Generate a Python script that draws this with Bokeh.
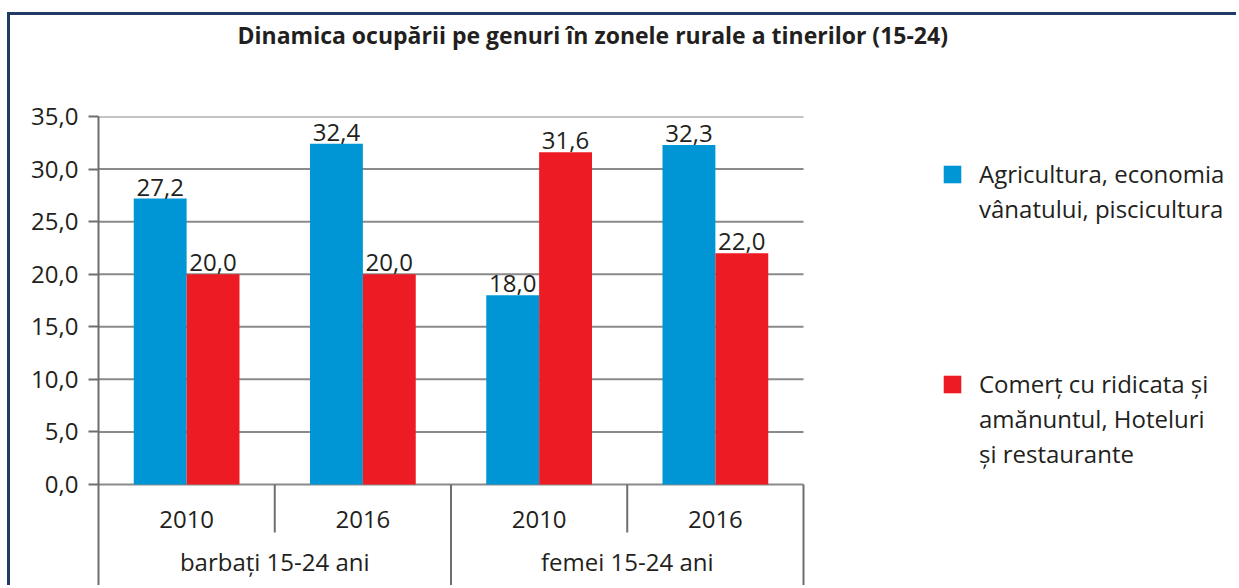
from bokeh.plotting import figure
from bokeh.models import (Range1d, ColumnDataSource, FixedTicker, Legend, LegendItem,
                          Title, CustomJSTickFormatter)
from bokeh.transform import dodge
from bokeh.core.properties import value
from bokeh.embed import file_html
from bokeh.resources import INLINE

# ---- data ----
chart_title = "Dinamica ocupării pe genuri în zonele rurale a tinerilor (15-24)"
groups = ["barbați 15-24 ani", "femei 15-24 ani"]
years = ["2010", "2016"]
agricultura = [27.2, 32.4, 18.0, 32.3]
comert = [20.0, 20.0, 31.6, 22.0]
series_lines = [["Agricultura, economia", "vânatului, piscicultura"],
                ["Comerț cu ridicata și", "amănuntul, Hoteluri", "și restaurante"]]
y_ticks = [0, 5, 10, 15, 20, 25, 30, 35]

BLUE = "#0096D6"
RED = "#ED1C24"
TXT = "#231F20"
GRID = "#8A8A8A"
AXIS = "#6E6E6E"
FONT = "Open Sans"

# category slots: one unit per (group, year) pair
factors = [(g, y) for g in groups for y in years]
n_cat = len(factors)
slot = [i + 0.5 for i in range(n_cat)]

def fmt(v):
    return f"{v:.1f}".replace(".", ",")

src = ColumnDataSource(dict(
    x=slot,
    agri=agricultura,
    com=comert,
    agri_lbl=[fmt(v) for v in agricultura],
    com_lbl=[fmt(v) for v in comert],
))

# canvas origin is shifted by the CSS margin + border below
OX, OY = 10, 15
W, H = 1239 - OX, 588 - OY
left_b = 98 - OX
top_b = 116 - OY
plot_w = 705                      # width of the bar area
frame_w = W - left_b              # frame also hosts the legend on the right
frame_h = H - top_b
px_per_unit = 368 / 35.0
y_bottom = 35 - frame_h / px_per_unit
x_end = n_cat * frame_w / plot_w

p = figure(width=W, height=H, output_backend="svg", toolbar_location=None,
           x_range=Range1d(0, x_end), y_range=Range1d(y_bottom, 35),
           x_axis_location=None,
           min_border_left=left_b, min_border_right=0,
           min_border_top=top_b, min_border_bottom=0)
p.styles = {"margin-left": "7px", "margin-top": "12px",
            "border-top": "3px solid #213A66", "border-left": "3px solid #213A66"}
p.outline_line_color = None
p.background_fill_color = "white"
p.xgrid.visible = False
p.ygrid.visible = False

yax = p.yaxis[0]
yax.ticker = FixedTicker(ticks=y_ticks)
yax.formatter = CustomJSTickFormatter(code="return tick.toFixed(1).replace('.', ',');")
yax.axis_line_color = AXIS
yax.axis_line_width = 2
yax.major_tick_line_color = AXIS
yax.major_tick_line_width = 2
yax.major_tick_out = 10
yax.major_tick_in = 0
yax.minor_tick_line_color = None
yax.major_label_standoff = 10
yax.major_label_text_font = FONT
yax.major_label_text_font_size = "24px"
yax.major_label_text_color = TXT

# horizontal grid lines across the bar area only
p.segment(x0=[0] * len(y_ticks), x1=[n_cat] * len(y_ticks), y0=y_ticks, y1=y_ticks,
          line_color=GRID, line_width=2)

r1 = p.vbar(x=dodge("x", -0.15), top="agri", width=0.3, bottom=0,
            source=src, fill_color=BLUE, line_color=None)
r2 = p.vbar(x=dodge("x", 0.15), top="com", width=0.3, bottom=0,
            source=src, fill_color=RED, line_color=None)
# invisible renderer used for legend rows that carry no swatch
r_blank = p.vbar(x=[], top=[], width=0.3, fill_alpha=0, line_alpha=0)

lbl_kw = dict(text_align="center", text_baseline="bottom", text_font=value(FONT),
              text_font_size="24px", text_color=TXT, y_offset=-3, source=src)
p.text(x=dodge("x", -0.15), y="agri", text="agri_lbl", **lbl_kw)
p.text(x=dodge("x", 0.15), y="com", text="com_lbl", **lbl_kw)

# category axis (two levels) drawn below the zero line
cat_src = ColumnDataSource(dict(x=slot, y=[0] * n_cat, t=[f[1] for f in factors]))
p.text(x="x", y="y", text="t", source=cat_src, y_offset=35, text_align="center",
       text_baseline="middle", text_font=value(FONT), text_font_size="24px", text_color=TXT)
grp_x = [sum(s for s, f in zip(slot, factors) if f[0] == g) /
         sum(1 for f in factors if f[0] == g) for g in groups]
grp_src = ColumnDataSource(dict(x=grp_x, y=[0] * len(groups), t=groups))
p.text(x="x", y="y", text="t", source=grp_src, y_offset=77, text_align="center",
       text_baseline="middle", text_font=value(FONT), text_font_size="24px", text_color=TXT)

# separators below the axis: short between years, long between groups / at the end
short_len = 48 / px_per_unit
sep_x, sep_y1 = [], []
for i in range(1, n_cat + 1):
    group_end = (i == n_cat) or (factors[i][0] != factors[i - 1][0])
    sep_x.append(i)
    sep_y1.append(y_bottom if group_end else -short_len)
p.segment(x0=sep_x, x1=sep_x, y0=[0] * len(sep_x), y1=sep_y1,
          line_color=AXIS, line_width=2)

# legend on the right: one row per text line, swatch on the first line
items = []
for i, (lines, rend) in enumerate(zip(series_lines, [r1, r2])):
    if i > 0:
        for _ in range(4):
            items.append(LegendItem(label=" ", renderers=[r_blank]))
    items.append(LegendItem(label=lines[0], renderers=[rend]))
    for ln in lines[1:]:
        items.append(LegendItem(label=ln, renderers=[r_blank]))

leg = Legend(items=items, location=(843, 117))
leg.border_line_color = None
leg.background_fill_alpha = 0
leg.padding = 0
leg.margin = 0
leg.spacing = 0
leg.glyph_width = 22
leg.glyph_height = 22
leg.label_height = 35
leg.label_standoff = 16
leg.label_text_font = FONT
leg.label_text_font_size = "24px"
leg.label_text_color = TXT
leg.label_text_baseline = "middle"
p.add_layout(leg, "center")

# spacer above the frame, then the real title (outermost)
p.add_layout(Title(text=" ", text_font_size="10px", standoff=53), "above")
p.title = Title(text=chart_title, align="left", offset=237 - 98, standoff=0,
                text_font=FONT, text_font_size="23px", text_font_style="bold",
                text_color=TXT)

open("out.html", "w").write(file_html(p, INLINE))
